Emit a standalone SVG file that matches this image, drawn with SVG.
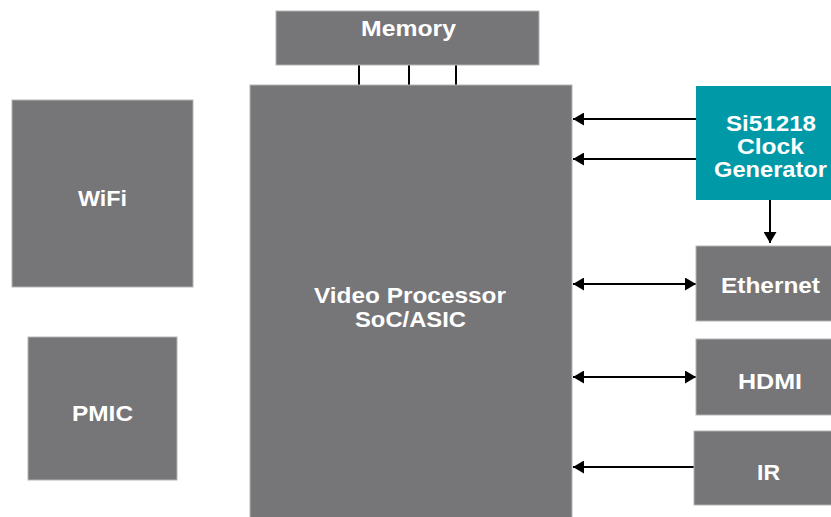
<svg xmlns="http://www.w3.org/2000/svg" width="831" height="517" viewBox="0 0 831 517">
<style>
.box{fill:#767577;stroke:#b5b5b5;stroke-width:1}
.clk{fill:#0099a8}
.t{font-family:"Liberation Sans",Arial,sans-serif;font-weight:bold;font-size:22px;fill:#fff;text-anchor:middle}
.w{stroke:#000;stroke-width:2;fill:none}
</style>
<defs>
<marker id="ah" viewBox="0 0 11 13" refX="11" refY="6.5" markerWidth="11" markerHeight="13" markerUnits="userSpaceOnUse" orient="auto-start-reverse">
<path d="M0,0 L11,6.5 L0,13 Z" fill="#000"/>
</marker>
</defs>
<g id="connectors">
<line class="w" x1="359" y1="65" x2="359" y2="85"/>
<line class="w" x1="409" y1="65" x2="409" y2="85"/>
<line class="w" x1="456" y1="65" x2="456" y2="85"/>
<line class="w" x1="696" y1="119" x2="573" y2="119" marker-end="url(#ah)"/>
<line class="w" x1="696" y1="159" x2="573" y2="159" marker-end="url(#ah)"/>
<line class="w" x1="770" y1="200" x2="770" y2="243" marker-end="url(#ah)"/>
<line class="w" x1="573" y1="284" x2="696" y2="284" marker-start="url(#ah)" marker-end="url(#ah)"/>
<line class="w" x1="573" y1="377" x2="696" y2="377" marker-start="url(#ah)" marker-end="url(#ah)"/>
<line class="w" x1="694" y1="467" x2="573" y2="467" marker-end="url(#ah)"/>
</g>
<g id="memory"><rect class="box" x="276" y="11" width="263" height="54"/><text class="t" x="408.5" y="36" textLength="95" lengthAdjust="spacingAndGlyphs">Memory</text></g>
<g id="soc"><rect class="box" x="250" y="85" width="322" height="433"/><text class="t" x="410" y="303" textLength="192" lengthAdjust="spacingAndGlyphs">Video Processor</text><text class="t" x="410.5" y="327" textLength="111" lengthAdjust="spacingAndGlyphs">SoC/ASIC</text></g>
<g id="wifi"><rect class="box" x="12" y="100" width="181" height="187"/><text class="t" x="102.5" y="206" textLength="49" lengthAdjust="spacingAndGlyphs">WiFi</text></g>
<g id="pmic"><rect class="box" x="28" y="337" width="149" height="143"/><text class="t" x="102.5" y="421" textLength="61" lengthAdjust="spacingAndGlyphs">PMIC</text></g>
<g id="clock"><rect class="clk" x="696" y="86" width="136" height="114"/><text class="t" x="771" y="131" textLength="90" lengthAdjust="spacingAndGlyphs">Si51218</text><text class="t" x="770.5" y="154" textLength="67" lengthAdjust="spacingAndGlyphs">Clock</text><text class="t" x="770.5" y="177" textLength="113" lengthAdjust="spacingAndGlyphs">Generator</text></g>
<g id="ethernet"><rect class="box" x="696" y="246" width="136" height="75"/><text class="t" x="770.5" y="293" textLength="99" lengthAdjust="spacingAndGlyphs">Ethernet</text></g>
<g id="hdmi"><rect class="box" x="696" y="339" width="136" height="76"/><text class="t" x="770" y="389" textLength="64" lengthAdjust="spacingAndGlyphs">HDMI</text></g>
<g id="ir"><rect class="box" x="694" y="431" width="138" height="74"/><text class="t" x="768.5" y="480" textLength="23" lengthAdjust="spacingAndGlyphs">IR</text></g>
</svg>
